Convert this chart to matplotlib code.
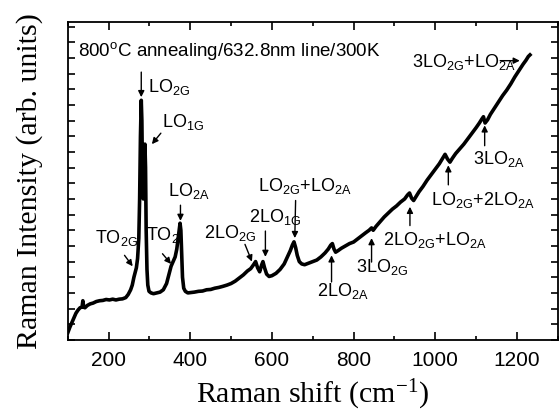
import matplotlib
matplotlib.use("Agg")
import matplotlib.pyplot as plt
from matplotlib.ticker import MultipleLocator, NullFormatter

# spectrum (Raman shift in cm-1, intensity in arb. units)
raman_shift = [
    100, 105, 110, 115, 120, 125, 130, 135, 137, 139, 142, 148, 155, 162, 170,
    178, 186, 194, 202, 210, 218, 226, 234, 242, 248, 254, 258, 262, 265, 268,
    271, 274, 276, 278, 280, 281.5, 283, 285, 287, 289, 290.5, 292, 294, 296,
    299, 304, 310, 318, 326, 334, 342, 348, 353, 358, 363, 367, 370, 373, 375,
    377, 379, 381, 384, 388, 394, 400, 410, 420, 430, 440, 450, 460, 470, 480,
    490, 500, 510, 520, 530, 540, 548, 555, 560, 565, 570, 575, 578, 582, 587,
    593, 600, 610, 620, 630, 638, 645, 650, 654, 658, 662, 667, 673, 680, 690,
    700, 710, 720, 730, 738, 744, 748, 752, 756, 762, 770, 780, 790, 800, 810,
    820, 830, 838, 844, 848, 855, 865, 875, 885, 895, 905, 915, 925, 932, 937,
    942, 947, 953, 960, 970, 980, 990, 1000, 1010, 1018, 1024, 1030, 1036, 1042,
    1050, 1060, 1070, 1080, 1090, 1100, 1108, 1114, 1118, 1122, 1128, 1135, 1145,
    1155, 1165, 1175, 1185, 1195, 1205, 1215, 1222, 1228, 1232,
]
intensity = [
    0.45, 0.8, 1.1, 1.4, 1.7, 1.9, 2.05, 2.1, 2.5, 2.1, 2.05, 2.2, 2.3, 2.35, 2.45,
    2.5, 2.52, 2.58, 2.55, 2.6, 2.55, 2.6, 2.62, 2.7, 2.9, 3.2, 3.5, 4.0, 4.3, 4.6,
    5.2, 6.5, 9.0, 13.0, 15.3, 14.0, 10.5, 9.0, 11.5, 12.5, 11.0, 7.0, 4.5, 3.5,
    3.1, 3.0, 2.95, 3.0, 3.05, 3.2, 3.6, 4.2, 4.7, 5.0, 5.3, 5.8, 6.4, 7.0, 7.45,
    7.0, 5.5, 4.0, 3.3, 3.1, 3.0, 3.02, 3.05, 3.1, 3.12, 3.2, 3.22, 3.3, 3.35, 3.42,
    3.5, 3.6, 3.75, 3.95, 4.15, 4.4, 4.55, 4.8, 5.0, 4.6, 4.35, 4.8, 5.0, 4.6, 4.2,
    4.05, 4.1, 4.25, 4.5, 4.85, 5.3, 5.7, 6.05, 6.26, 5.9, 5.4, 5.0, 4.85, 4.8, 4.9,
    5.0, 5.1, 5.3, 5.55, 5.8, 6.05, 6.15, 5.8, 5.6, 5.7, 5.85, 6.0, 6.15, 6.25, 6.45,
    6.65, 6.85, 7.0, 7.15, 7.0, 7.25, 7.55, 7.85, 8.1, 8.35, 8.55, 8.8, 9.0, 9.25, 9.38,
    9.05, 8.9, 9.15, 9.45, 9.8, 10.2, 10.55, 10.9, 11.25, 11.6, 11.85, 11.55, 11.35, 11.6,
    11.9, 12.2, 12.5, 12.85, 13.2, 13.55, 13.85, 14.1, 14.25, 13.85, 14.05, 14.4, 14.8,
    15.2, 15.6, 15.95, 16.35, 16.8, 17.2, 17.6, 17.85, 18.1, 18.2,
]

# peak labels: text, text position, arrow tail, arrow head (data coords)
sub = lambda s: r"$_\mathregular{" + s + "}$"
labels = [
    "LO" + sub("2G"), "LO" + sub("1G"), "LO" + sub("2A"), "TO" + sub("2G"), "TO" + sub("2"),
    "2LO" + sub("2G"), "2LO" + sub("1G"), "LO" + sub("2G") + "+LO" + sub("2A"),
    "2LO" + sub("2A"), "3LO" + sub("2G"), "2LO" + sub("2G") + "+LO" + sub("2A"),
    "LO" + sub("2G") + "+2LO" + sub("2A"), "3LO" + sub("2A"),
    "3LO" + sub("2G") + "+LO" + sub("2A"),
]
text_xy = [(296, 15.8), (332, 13.6), (346, 9.2), (166, 6.16), (292, 6.37),
           (434, 6.5), (545, 7.5), (566, 9.5), (710, 2.8), (805, 4.33),
           (873, 6.05), (990, 8.6), (1093, 11.25), (942, 17.4)]
tail_xy = [(280, 17.1), (328, 13.2), (376, 8.6), (239, 5.4), (332, 5.5),
           (534, 6.1), (584, 6.95), (658, 8.9), (746, 3.7), (844, 4.97),
           (938, 7.3), (1032, 9.9), (1121, 12.4), (1159, 17.83)]
head_xy = [(280, 15.5), (306, 12.5), (376, 7.6), (259, 4.7), (353, 4.85),
           (551, 5.0), (584, 5.3), (656, 6.5), (746, 5.4), (844, 6.5),
           (938, 8.5), (1032, 11.15), (1121, 13.7), (1207, 17.83)]

plt.rcParams["font.family"] = "Liberation Sans"
plt.rcParams["mathtext.default"] = "regular"

fig = plt.figure(figsize=(5.6, 4.15), dpi=100)
ax = fig.add_axes([0.121, 0.181, 0.875, 0.766])

ax.plot(raman_shift, intensity, color="black", lw=2.6, solid_joinstyle="round")

for lab, t, a, b in zip(labels, text_xy, tail_xy, head_xy):
    ax.text(t[0], t[1], lab, fontsize=13, ha="left", va="baseline")
    ax.annotate("", xy=b, xytext=a,
                arrowprops=dict(arrowstyle="-|>", color="black", lw=1.0,
                                mutation_scale=9, shrinkA=0, shrinkB=0))

ax.text(124, 18.15, r"800$^\mathregular{o}$C annealing/632.8nm line/300K",
        fontsize=13.5, ha="left", va="baseline")

ax.set_xlim(100, 1300)
ax.set_ylim(0, 20.3)
ax.xaxis.set_major_locator(MultipleLocator(200))
ax.xaxis.set_minor_locator(MultipleLocator(100))
ax.yaxis.set_major_locator(MultipleLocator(1))
ax.yaxis.set_major_formatter(NullFormatter())
ax.tick_params(axis="both", which="both", direction="in", top=True, right=True, width=1.2)
ax.tick_params(axis="x", which="major", length=6, labelsize=15, pad=8)
ax.tick_params(axis="x", which="minor", length=3)
ax.tick_params(axis="y", which="major", length=5)
for s in ax.spines.values():
    s.set_linewidth(1.3)

ax.set_xlabel(r"Raman shift (cm$^\mathregular{-1}$)", family="Liberation Serif",
              fontsize=21.5, labelpad=6)
ax.set_ylabel("Raman Intensity (arb. units)", family="Liberation Serif",
              fontsize=21.5, labelpad=14)

fig.savefig("out.png", dpi=100)
